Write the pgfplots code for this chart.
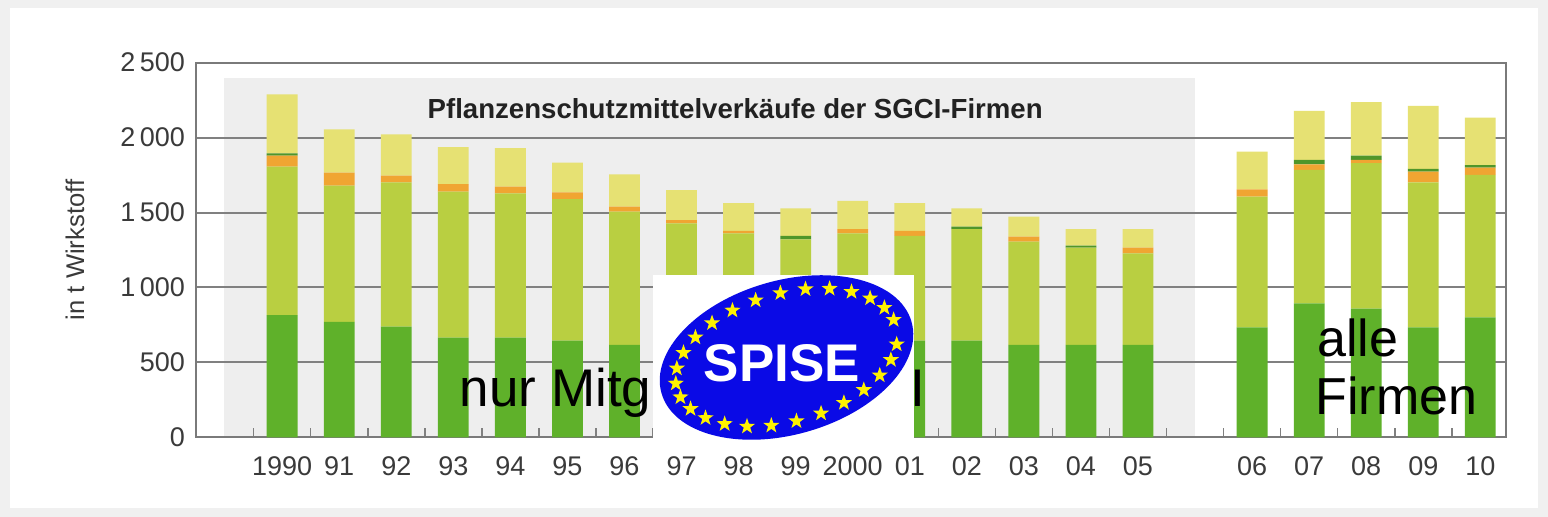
\documentclass[border=0pt]{standalone}
\usepackage{pgfplots}
\pgfplotsset{compat=1.18}
\usepackage{pgfplotstable}
\usepackage{fontspec}
\setmainfont{Liberation Sans}
\usetikzlibrary{shapes.geometric}
\definecolor{dgreen}{HTML}{5FB12A}
\definecolor{lgreen}{HTML}{B9CF41}
\definecolor{orangec}{HTML}{F0A532}
\definecolor{lined}{HTML}{4F962A}
\definecolor{yellowc}{HTML}{E6E173}
\definecolor{regiongray}{HTML}{EEEEEE}
\definecolor{bggray}{HTML}{F0F0F0}
\definecolor{gridcol}{HTML}{808080}
\definecolor{axiscol}{HTML}{7A7A7A}
\definecolor{labcol}{HTML}{3A3A3A}
\definecolor{titlecol}{HTML}{222222}
\definecolor{logoblue}{HTML}{0A0AE6}
\definecolor{staryellow}{HTML}{FFF200}

\pgfplotstableread{
x  D   L   O  K  Y
0  816 990 73 16 394
1  771 908 87 0  289
2  738 964 44 0  276
3  665 974 51 0  247
4  665 963 45 0  256
5  645 945 45 0  198
6  616 890 33 0  216
7  600 828 22 0  200
8  590 771 16 0  185
9  600 721 0  24 183
10 620 741 29 0  187
11 645 700 32 0  185
12 645 745 0  16 122
13 616 689 34 0  133
14 616 649 0  14 111
15 616 612 37 0  125
17 734 872 49 0  251
18 894 890 38 29 327
19 858 971 22 28 357
20 734 968 71 18 420
21 801 950 48 18 316
}\data

\begin{document}
\begin{tikzpicture}
\fill[bggray] (0pt,0pt) rectangle (774pt,258.5pt);
\fill[white] (5pt,4.5pt) rectangle (769pt,254.5pt);
% shaded region behind the SGCI-member years (x=-1..16, y=0..2400)
\fill[regiongray] (112.1pt,39.85pt) rectangle (597.45pt,219.66pt);
\begin{axis}[
  at={(98pt,39.85pt)}, anchor=south west,
  scale only axis, width=655pt, height=187.3pt,
  xmin=-1.51, xmax=21.45, ymin=0, ymax=2500,
  ybar stacked, bar width=0.54,
  xtick={0,1,2,3,4,5,6,7,8,9,10,11,12,13,14,15,17,18,19,20,21},
  xticklabels={1990,91,92,93,94,95,96,97,98,99,2000,01,02,03,04,05,06,07,08,09,10},
  minor xtick={-0.5,0.5,...,20.5},
  ytick={0,500,1000,1500,2000,2500},
  yticklabels={0,500,1\,000,1\,500,2\,000,2\,500},
  ymajorgrids,
  grid style={gridcol, line width=1pt},
  major tick length=0pt, minor tick length=4.5pt,
  tick align=inside, xtick pos=bottom, ytick pos=left,
  minor tick style={gridcol, line width=0.8pt},
  axis line style={axiscol, line width=0.9pt},
  tick label style={font=\fontsize{13.5}{16}\selectfont, text=labcol},
  xticklabel style={yshift=-6pt},
  yticklabel style={xshift=-2pt},
  ylabel={in t Wirkstoff},
  every axis y label/.style={at={(axis description cs:-0.0924,0.5)}, rotate=90, anchor=center, font=\fontsize{12.8}{14}\selectfont, text=labcol},
]
\addplot[fill=dgreen, draw=none] table[x=x,y=D]{\data};
\addplot[fill=lgreen, draw=none] table[x=x,y=L]{\data};
\addplot[fill=orangec, draw=none] table[x=x,y=O]{\data};
\addplot[fill=lined, draw=none] table[x=x,y=K]{\data};
\addplot[fill=yellowc, draw=none] table[x=x,y=Y]{\data};
\end{axis}
\node[anchor=base, inner sep=0, font=\bfseries\fontsize{13.8}{16}\selectfont, text=titlecol] at (367.6pt,199.35pt) {Pflanzenschutzmittelverkäufe der SGCI-Firmen};
\node[anchor=base west, inner sep=0, font=\fontsize{26.5}{30}\selectfont] at (229.75pt,55.15pt) {nur Mitg\phantom{lieder SGC}I};
\fill[white] (326.5pt,38.5pt) rectangle (457pt,121pt);
\begin{scope}[shift={(393.25pt,79.75pt)}, rotate=16]
\fill[logoblue] (0pt,0pt) ellipse [x radius=65pt, y radius=38.5pt];
\foreach \a in {6,19,...,350}
  \node[star, star points=5, star point ratio=2.5, fill=staryellow, inner sep=0pt, minimum size=8.5pt] at (\a:57pt and 32pt) {};
\end{scope}
\node[anchor=base, inner sep=0, text=white, font=\bfseries\fontsize{26.5}{30}\selectfont] at (391pt,67.65pt) {SPISE};
\node[anchor=base west, inner sep=0, font=\fontsize{26}{30}\selectfont] at (658.5pt,80.15pt) {alle};
\node[anchor=base west, inner sep=0, font=\fontsize{26}{30}\selectfont] at (657.5pt,51pt) {Firmen};
\end{tikzpicture}
\end{document}
